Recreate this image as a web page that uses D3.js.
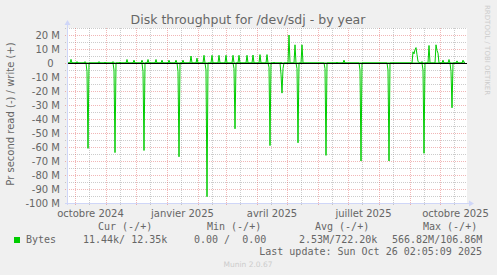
<!DOCTYPE html>
<html>
<head>
<meta charset="utf-8">
<script src="https://cdn.jsdelivr.net/npm/d3@7"></script>
<style>
  body { margin: 0; background: #f0f0f0; }
  svg { display: block; }
  text { white-space: pre; }
</style>
</head>
<body>
<div id="chart"></div>
<script>
// ---- data ----
const chartTitle = "Disk throughput for /dev/sdj - by year";
const yAxisTitle = "Pr second read (-) / write (+)";
const yTicks = [20, 10, 0, -10, -20, -30, -40, -50, -60, -70, -80, -90, -100];

const monthLabels = [
    ["2024-10-01", "octobre 2024"],
    ["2025-01-01", "janvier 2025"],
    ["2025-04-01", "avril 2025"],
    ["2025-07-01", "juillet 2025"],
    ["2025-10-01", "octobre 2025"]
];

// write (+), in M per second
const writePoints = [
    ["2024-09-23", 0], ["2024-09-26", 0], ["2024-09-27", 2.6], ["2024-09-28", 0],
    ["2024-10-02", 0], ["2024-10-03", 1], ["2024-10-04", 0],
    ["2024-10-10", 0], ["2024-10-11", 1], ["2024-10-12", 0],
    ["2024-10-24", 0], ["2024-10-25", 1], ["2024-10-26", 0],
    ["2024-10-30", 0], ["2024-10-31", 0.5], ["2024-11-01", 0],
    ["2024-11-07", 0], ["2024-11-08", 1], ["2024-11-09", 0],
    ["2024-11-14", 0], ["2024-11-15", 0.5], ["2024-11-16", 0],
    ["2024-11-21", 0], ["2024-11-22", 2.5], ["2024-11-23", 0],
    ["2024-11-28", 0], ["2024-11-29", 2], ["2024-11-30", 0],
    ["2024-12-06", 0], ["2024-12-07", 2], ["2024-12-08", 0],
    ["2024-12-12", 0], ["2024-12-13", 2.5], ["2024-12-14", 0],
    ["2024-12-20", 0], ["2024-12-21", 2.5], ["2024-12-22", 0],
    ["2024-12-26", 0], ["2024-12-27", 2], ["2024-12-28", 0],
    ["2025-01-02", 0], ["2025-01-03", 2], ["2025-01-04", 0],
    ["2025-01-09", 0], ["2025-01-10", 2], ["2025-01-11", 0],
    ["2025-01-16", 0], ["2025-01-17", 2], ["2025-01-18", 0],
    ["2025-01-24", 0], ["2025-01-25", 5], ["2025-01-26", 0],
    ["2025-01-30", 0], ["2025-01-31", 3.5], ["2025-02-01", 0],
    ["2025-02-06", 0], ["2025-02-07", 5.5], ["2025-02-08", 0],
    ["2025-02-14", 0], ["2025-02-15", 5.5], ["2025-02-16", 0],
    ["2025-02-21", 0], ["2025-02-22", 5.5], ["2025-02-23", 0],
    ["2025-02-28", 0], ["2025-03-01", 5.5], ["2025-03-02", 0],
    ["2025-03-07", 0], ["2025-03-08", 5.5], ["2025-03-09", 0],
    ["2025-03-13", 0], ["2025-03-14", 5.5], ["2025-03-15", 0],
    ["2025-03-21", 0], ["2025-03-22", 5.5], ["2025-03-23", 0],
    ["2025-03-27", 0], ["2025-03-28", 5.7], ["2025-03-29", 0],
    ["2025-04-03", 0], ["2025-04-04", 6], ["2025-04-05", 0],
    ["2025-04-10", 0], ["2025-04-11", 6], ["2025-04-12", 0],
    ["2025-04-17", 0], ["2025-04-18", 0.5], ["2025-04-19", 0],
    ["2025-04-24", 0], ["2025-04-25", 0.5], ["2025-04-26", 0],
    ["2025-05-02", 0], ["2025-05-03", 20], ["2025-05-04", 0],
    ["2025-05-08", 0], ["2025-05-09", 13], ["2025-05-10", 0],
    ["2025-05-15", 0], ["2025-05-16", 13], ["2025-05-17", 0],
    ["2025-06-19", 0], ["2025-06-20", 0.5], ["2025-06-21", 0],
    ["2025-06-26", 0], ["2025-06-27", 2], ["2025-06-28", 0],
    ["2025-09-03", 0], ["2025-09-04", 8], ["2025-09-05", 6.5], ["2025-09-06", 9.5],
    ["2025-09-07", 11], ["2025-09-08", 6], ["2025-09-09", 1], ["2025-09-10", 0.5], ["2025-09-11", 0],
    ["2025-09-12", 0], ["2025-09-13", 1], ["2025-09-14", 0],
    ["2025-09-19", 0], ["2025-09-20", 12.5], ["2025-09-21", 0],
    ["2025-09-26", 0], ["2025-09-27", 13], ["2025-09-28", 9], ["2025-09-29", 7], ["2025-09-30", 0],
    ["2025-10-03", 0], ["2025-10-04", 2], ["2025-10-05", 0],
    ["2025-10-09", 0], ["2025-10-10", 2.5], ["2025-10-11", 0],
    ["2025-10-17", 0], ["2025-10-18", 1.5], ["2025-10-19", 0],
    ["2025-10-23", 0], ["2025-10-24", 2], ["2025-10-25", 0.5], ["2025-10-26", 0.5]
];

// read (-), in M per second
const readPoints = [
    ["2024-09-23", 0],
    ["2024-10-12", 0], ["2024-10-13", -6], ["2024-10-14", -61], ["2024-10-15", 0],
    ["2024-11-08", 0], ["2024-11-09", -5], ["2024-11-10", -64], ["2024-11-11", 0],
    ["2024-12-07", 0], ["2024-12-08", -6], ["2024-12-09", -62.5], ["2024-12-10", 0],
    ["2025-01-11", 0], ["2025-01-12", -6], ["2025-01-13", -67], ["2025-01-14", 0],
    ["2025-02-08", 0], ["2025-02-09", -5], ["2025-02-10", -95.5], ["2025-02-11", 0],
    ["2025-03-08", 0], ["2025-03-09", -4], ["2025-03-10", -47], ["2025-03-11", 0],
    ["2025-04-12", 0], ["2025-04-13", -3], ["2025-04-14", -59], ["2025-04-15", 0],
    ["2025-04-24", 0], ["2025-04-25", -8], ["2025-04-26", -21.5], ["2025-04-27", -4], ["2025-04-28", 0],
    ["2025-05-10", 0], ["2025-05-11", -4], ["2025-05-12", -57], ["2025-05-13", 0],
    ["2025-06-07", 0], ["2025-06-08", -4], ["2025-06-09", -66], ["2025-06-10", 0],
    ["2025-07-12", 0], ["2025-07-13", -5], ["2025-07-14", -70], ["2025-07-15", 0],
    ["2025-08-09", 0], ["2025-08-10", -5], ["2025-08-11", -70], ["2025-08-12", 0],
    ["2025-09-13", 0], ["2025-09-14", -5], ["2025-09-15", -64.5], ["2025-09-16", 0],
    ["2025-10-11", 0], ["2025-10-12", -6], ["2025-10-13", -32], ["2025-10-14", 0],
    ["2025-10-26", 0]
];

const legendHeaders = ["Cur (-/+)", "Min (-/+)", "Avg (-/+)", "Max (-/+)"];
const legendName = "Bytes";
const legendValues = ["11.44k/ 12.35k", "0.00 /  0.00", "2.53M/722.20k", "566.82M/106.86M"];
const lastUpdate = "Last update: Sun Oct 26 02:05:09 2025";
const footer = "Munin 2.0.67";
const watermark = "RRDTOOL / TOBI OETIKER";

// ---- layout ----
const W = 497, H = 275;
const plot = {left: 67, right: 467, top: 28, bottom: 203};
const fontSans = "'DejaVu Sans', sans-serif";
const fontMono = "'DejaVu Sans Mono', monospace";
const fontColor = "#666666";

const parse = d3.utcParse("%Y-%m-%d");
const writeData = writePoints.map(d => ({date: parse(d[0]), value: d[1]}));
const readData = readPoints.map(d => ({date: parse(d[0]), value: d[1]}));

const svg = d3.select("#chart")
    .append("svg")
    .attr("width", W)
    .attr("height", H);

svg.append("rect")
    .attr("width", W)
    .attr("height", H)
    .attr("fill", "#f0f0f0");

// Scales: one pixel per day
const x = d3.scaleUtc()
    .domain([parse("2024-09-23"), parse("2025-10-28")])
    .range([plot.left, plot.right]);

const y = d3.scaleLinear()
    .domain([-100, 25])
    .range([plot.bottom, plot.top]);

// Canvas
svg.append("rect")
    .attr("x", plot.left)
    .attr("y", plot.top)
    .attr("width", plot.right - plot.left)
    .attr("height", plot.bottom - plot.top)
    .attr("fill", "#ffffff");

const grid = svg.append("g").attr("shape-rendering", "crispEdges");
const minorColor = "rgba(143,143,143,0.45)";
const majorColor = "rgba(222,80,80,0.42)";

// Horizontal grid: minor every 5 M, major every 10 M
d3.range(-100, 26, 5).forEach(v => {
    const major = v % 10 === 0;
    grid.append("line")
        .attr("x1", plot.left - 2)
        .attr("x2", plot.right)
        .attr("y1", Math.round(y(v)) + 0.5)
        .attr("y2", Math.round(y(v)) + 0.5)
        .attr("stroke", major ? majorColor : minorColor)
        .attr("stroke-dasharray", "1,1");
});

// Vertical grid: months (major) and mid-month (minor)
const months = d3.utcMonth.range(x.domain()[0], x.domain()[1]);
months.forEach(m => {
    const mid = d3.utcDay.offset(m, 14);
    [[m, majorColor], [mid, minorColor]].forEach(([t, c]) => {
        if (t < x.domain()[0] || t > x.domain()[1]) return;
        grid.append("line")
            .attr("x1", Math.round(x(t)) + 0.5)
            .attr("x2", Math.round(x(t)) + 0.5)
            .attr("y1", plot.top)
            .attr("y2", plot.bottom + 2)
            .attr("stroke", c)
            .attr("stroke-dasharray", "1,1");
    });
});

// Y axis labels
const yAxis = d3.axisLeft(y)
    .tickValues(yTicks)
    .tickSize(0)
    .tickPadding(0)
    .tickFormat(v => v === 0 ? "0  " : v + " M");

svg.append("g")
    .attr("transform", `translate(60,0)`)
    .call(yAxis)
    .call(g => g.select(".domain").remove())
    .selectAll("text")
    .attr("font-family", fontSans)
    .attr("font-size", 10)
    .attr("fill", fontColor)
    .attr("dy", "0.35em");

// X axis month labels, centred in their month
monthLabels.forEach(([d, label]) => {
    const start = parse(d);
    const end = d3.utcMonth.offset(start, 1);
    svg.append("text")
        .attr("x", (x(start) + x(end)) / 2)
        .attr("y", 217)
        .attr("text-anchor", "middle")
        .attr("font-family", fontSans)
        .attr("font-size", 10)
        .attr("fill", fontColor)
        .text(label);
});

// Data lines
const line = d3.line()
    .x(d => x(d.date))
    .y(d => y(d.value));

[readData, writeData].forEach(series => {
    svg.append("path")
        .datum(series)
        .attr("fill", "none")
        .attr("stroke", "#00cc00")
        .attr("stroke-width", 1)
        .attr("d", line);
});

// Zero rule
svg.append("line")
    .attr("x1", plot.left)
    .attr("x2", plot.right)
    .attr("y1", Math.round(y(0)) + 0.5)
    .attr("y2", Math.round(y(0)) + 0.5)
    .attr("stroke", "#000000")
    .attr("stroke-width", 1)
    .attr("shape-rendering", "crispEdges");

// Axes with arrows
const axisColor = "#cfd6f8";
svg.append("line")
    .attr("x1", plot.left + 0.5).attr("x2", plot.left + 0.5)
    .attr("y1", plot.bottom + 2).attr("y2", plot.top - 4)
    .attr("stroke", axisColor);
svg.append("line")
    .attr("x1", plot.left - 2).attr("x2", plot.right + 4)
    .attr("y1", plot.bottom + 0.5).attr("y2", plot.bottom + 0.5)
    .attr("stroke", axisColor);
svg.append("path")
    .attr("d", `M${plot.left - 2.5},${plot.top - 3}L${plot.left + 0.5},${plot.top - 8}L${plot.left + 3.5},${plot.top - 3}Z`)
    .attr("fill", axisColor);
svg.append("path")
    .attr("d", `M${plot.right + 2},${plot.bottom - 2.5}L${plot.right + 7},${plot.bottom + 0.5}L${plot.right + 2},${plot.bottom + 3.5}Z`)
    .attr("fill", axisColor);

// Title
svg.append("text")
    .attr("x", 248)
    .attr("y", 24)
    .attr("text-anchor", "middle")
    .attr("font-family", fontSans)
    .attr("font-size", 12.5)
    .attr("fill", fontColor)
    .text(chartTitle);

// Y axis title
svg.append("text")
    .attr("transform", "translate(14,114) rotate(-90)")
    .attr("text-anchor", "middle")
    .attr("font-family", fontSans)
    .attr("font-size", 10)
    .attr("fill", fontColor)
    .text(yAxisTitle);

// Watermark on the right
svg.append("text")
    .attr("transform", "translate(485,5) rotate(90)")
    .attr("font-family", fontSans)
    .attr("font-size", 7)
    .attr("fill", "#cccccc")
    .text(watermark);

// Legend
const headerX = [98, 207, 315, 423];
const valueX = [83, 194, 299, 392];

legendHeaders.forEach((h, i) => {
    svg.append("text")
        .attr("x", headerX[i]).attr("y", 230)
        .attr("font-family", fontMono).attr("font-size", 10)
        .attr("fill", fontColor)
        .text(h);
});

svg.append("rect")
    .attr("x", 14).attr("y", 237)
    .attr("width", 6).attr("height", 6)
    .attr("fill", "#00cc00");

svg.append("text")
    .attr("x", 26).attr("y", 243)
    .attr("font-family", fontMono).attr("font-size", 10)
    .attr("fill", fontColor)
    .text(legendName);

legendValues.forEach((v, i) => {
    svg.append("text")
        .attr("x", valueX[i]).attr("y", 243)
        .attr("font-family", fontMono).attr("font-size", 10)
        .attr("fill", fontColor)
        .text(v);
});

svg.append("text")
    .attr("x", 482).attr("y", 255)
    .attr("text-anchor", "end")
    .attr("font-family", fontMono).attr("font-size", 10)
    .attr("fill", fontColor)
    .text(lastUpdate);

svg.append("text")
    .attr("x", 248).attr("y", 267)
    .attr("text-anchor", "middle")
    .attr("font-family", fontSans).attr("font-size", 7.5)
    .attr("fill", "#cccccc")
    .text(footer);
</script>
</body>
</html>
